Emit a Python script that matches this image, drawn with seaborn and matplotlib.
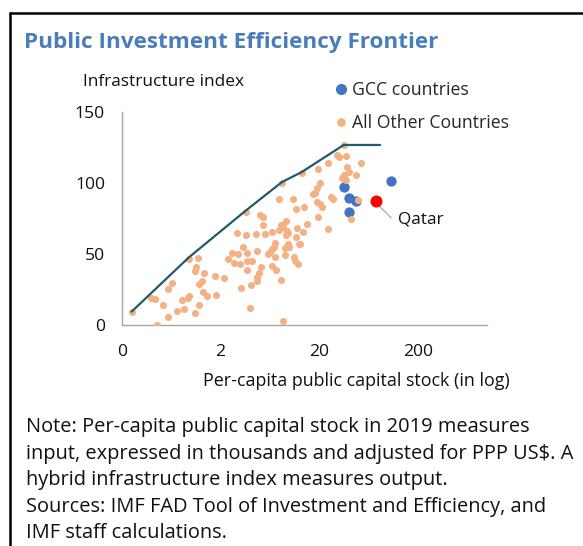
import matplotlib
matplotlib.use("Agg")
import matplotlib.pyplot as plt
import seaborn as sns
import pandas as pd
from matplotlib.lines import Line2D

# ---------------- data ----------------
other_x = [0.252, 0.393, 0.435, 0.52, 0.593, 0.651, 0.459, 0.584, 0.721, 0.848, 0.81, 0.931, 0.968,
           0.953, 1.175, 1.122, 1.105, 1.363, 1.29, 1.222, 1.342, 1.461, 1.222, 1.105, 1.774, 1.788,
           2.17, 2.38, 2.60, 2.99, 2.74, 3.15, 3.33, 3.60, 3.63, 3.74, 3.74, 3.68, 4.20, 3.23, 4.07, 3.98,
           2.92, 4.54, 4.72, 4.65, 4.65, 4.91, 5.14, 5.03, 5.31, 5.31, 5.65, 5.96, 6.34, 6.60, 6.86, 7.02,
           6.60, 6.60, 7.24, 7.13, 7.70, 7.82, 8.2, 8.46, 8.33, 8.86, 9.0, 8.2, 8.46, 9.14, 9.35, 10.68,
           10.93, 11.27, 11.45, 11.54, 11.81, 12.0, 12.47, 9.50, 9.73, 9.2, 9.6,
           13.17, 12.77, 13.58, 14.0, 14.9, 17.0, 18.1, 18.8, 20.3, 19.1, 18.8, 20.0, 21.2, 19.1, 24.1,
           24.3, 26.1, 27.1, 30.2, 31.4, 35.1, 37.0, 37.9, 39.4, 35.1, 33.7, 37.3, 47.1, 52.5, 48.6, 41.6]
other_y = [9.4, 19.2, 18.5, 14.1, 25.3, 29.8, 0.3, 5.4, 9.6, 11.0, 17.6, 19.0, 20.2,
           46.6, 46.9, 40.5, 37.7, 36.3, 31.2, 28.8, 23.4, 20.4, 14.1, 8.2, 34.7, 20.9,
           32.8, 46.2, 50.4, 49.7, 43.4, 42.7, 55.1, 79.7, 63.3, 50.9, 45.0, 38.7, 45.0, 25.8, 28.1, 12.0,
           64.4, 64.0, 52.3, 34.0, 30.9, 36.3, 41.0, 77.3, 75.7, 70.3, 64.0, 49.9, 51.6, 53.2, 55.1, 57.9,
           65.2, 41.5, 38.7, 47.8, 66.8, 88.6, 70.3, 69.1, 99.6, 53.9, 49.2, 31.6, 3.0, 73.1, 66.3, 88.4,
           47.8, 45.0, 62.1, 81.3, 68.4, 42.9, 56.7, 56.9, 55.1, 63.0, 64.5,
           107.1, 56.9, 65.6, 82.7, 71.0, 91.9, 92.6, 96.1, 99.6, 109.4, 86.7, 85.1, 83.2, 76.2, 67.3,
           113.7, 90.2, 88.8, 119.3, 117.9, 126.6, 118.8, 111.3, 107.8, 105.5, 103.1, 101.9, 105.5, 113.7, 87.9, 74.5]

gcc_x = [35.1, 40.0, 47.1, 40.0, 105.6]
gcc_y = [97.3, 89.5, 87.4, 79.7, 101.0]

qatar_x = [75.0]
qatar_y = [87.4]

frontier_x = [0.252, 0.953, 3.60, 8.33, 13.17, 35.1, 82.0]
frontier_y = [9.4, 47.5, 80.5, 100.5, 107.5, 126.6, 126.6]

x_ticks = [0.2, 2, 20, 200]
x_tick_labels = ["0", "2", "20", "200"]
y_ticks = [0, 50, 100, 150]

# ---------------- style ----------------
sns.set_theme(style="white")
plt.rcParams["font.family"] = ["Open Sans", "DejaVu Sans"]

W, H = 583, 546
fig = plt.figure(figsize=(W / 100, H / 100), dpi=100)
ax = fig.add_axes([121.7 / W, 1 - 325 / H, (486.7 - 121.7) / W, (325 - 111.7) / H])

ORANGE = "#F4B183"
BLUE = "#4472C4"
LINE = "#215A6B"
GREY = "#A6A6A6"
TXT = "#111111"

df_other = pd.DataFrame({"x": other_x, "y": other_y})
df_gcc = pd.DataFrame({"x": gcc_x, "y": gcc_y})
df_q = pd.DataFrame({"x": qatar_x, "y": qatar_y})
df_f = pd.DataFrame({"x": frontier_x, "y": frontier_y})

sns.scatterplot(data=df_other, x="x", y="y", ax=ax, color=ORANGE, s=26, linewidth=0, zorder=3)
sns.scatterplot(data=df_gcc, x="x", y="y", ax=ax, color=BLUE, s=55, linewidth=0, zorder=2)
sns.scatterplot(data=df_q, x="x", y="y", ax=ax, color="#FF0000", s=75, linewidth=0, zorder=4)
sns.lineplot(data=df_f, x="x", y="y", ax=ax, color=LINE, linewidth=1.6, sort=False, zorder=5)

ax.set_xscale("log")
ax.set_xlim(0.2, 980)
ax.set_ylim(0, 150)
ax.set_xticks(x_ticks)
ax.set_xticklabels(x_tick_labels)
ax.set_yticks(y_ticks)
ax.minorticks_off()
ax.set_xlabel("")
ax.set_ylabel("")

for side in ["top", "right"]:
    ax.spines[side].set_visible(False)
for side in ["left", "bottom"]:
    ax.spines[side].set_color(GREY)
    ax.spines[side].set_linewidth(1.0)
ax.tick_params(axis="both", which="major", direction="out", length=4, width=1.0,
               color=GREY, labelsize=12.6, labelcolor=TXT)
ax.tick_params(axis="x", pad=10)
ax.tick_params(axis="y", pad=8)
ax.patch.set_alpha(0)

# Qatar annotation
ax.annotate("Qatar", xy=(78.5, 84.4), xytext=(125.3, 74.3), textcoords="data",
            fontsize=12.4, color=TXT, va="center", ha="left",
            arrowprops=dict(arrowstyle="-", color=GREY, lw=0.9,
                            connectionstyle="angle,angleA=0,angleB=-45,rad=0",
                            shrinkA=3, shrinkB=0))

# legend
handles = [Line2D([], [], marker="o", linestyle="", color=BLUE, markersize=7),
           Line2D([], [], marker="o", linestyle="", color=ORANGE, markersize=5.2)]
fig.legend(handles, ["GCC countries", "All Other Countries"], loc="upper left",
           bbox_to_anchor=(333 / W, 1 - 81 / H), frameon=False, fontsize=12.7,
           handletextpad=0.15, handlelength=0.9, labelspacing=0.85, borderaxespad=0, borderpad=0)

# texts
fig.text(24 / W, 1 - 43 / H, "Public Investment Efficiency Frontier", fontsize=16.2, fontweight="bold",
         color="#4A7EBB", ha="left", va="center")
fig.text(83 / W, 1 - 82 / H, "Infrastructure index", fontsize=12.4, color=TXT, ha="left", va="center")
fig.text(356 / W, 1 - 381 / H, "Per-capita public capital stock (in log)", fontsize=12.9, color=TXT,
         ha="center", va="center")

note_lines = [
    "Note: Per-capita public capital stock in 2019 measures",
    "input, expressed in thousands and adjusted for PPP US$. A",
    "hybrid infrastructure index measures output.",
    "Sources: IMF FAD Tool of Investment and Efficiency, and",
    "IMF staff calculations.",
]
for i, line in enumerate(note_lines):
    fig.text(26 / W, 1 - (427 + i * 26.6) / H, line, fontsize=14.4, color=TXT, ha="left", va="center")

# border (top and left)
fig.add_artist(Line2D([10 / W, 1.0], [1 - 13 / H, 1 - 13 / H], color="black", linewidth=1.8,
                      transform=fig.transFigure))
fig.add_artist(Line2D([10 / W, 10 / W], [1 - 13 / H, 0.0], color="black", linewidth=1.8,
                      transform=fig.transFigure))

fig.savefig("out.png", dpi=100, facecolor="white")
